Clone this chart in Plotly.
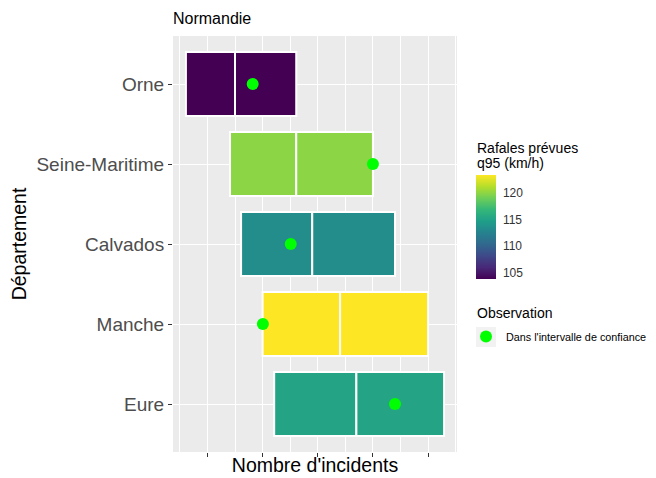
import plotly.graph_objects as go

# Data
departements = ["Orne", "Seine-Maritime", "Calvados", "Manche", "Eure"]
borne_basse = [6.1, 14.1, 16.1, 20.0, 22.1]
mediane = [15.0, 26.1, 29.0, 34.05, 37.0]
borne_haute = [26.1, 40.0, 44.0, 50.0, 52.9]
observation = [18.2, 40.0, 25.1, 20.05, 44.0]
rafales_q95 = [103.8, 120.0, 113.4, 123.45, 115.2]
x_ticks = [10, 20, 30, 40, 50]
cb_ticks = [105, 110, 115, 120]

# page body has an 8px margin -> work in page pixels and convert
O = 8
W, H = 656 - O, 478 - O
PX0, PX1, PY0, PY1 = 173, 457, 36, 452   # panel in page pixels
L, T = PX0 - O, PY0 - O
pw, ph = PX1 - PX0, PY1 - PY0
R, B = W - L - pw, H - T - ph


def px(x):
    return (x - PX0) / pw


def py(y):
    return (PY1 - y) / ph


cmin, cmax = min(rafales_q95), max(rafales_q95)
font = "Liberation Sans, Arial, sans-serif"

fig = go.Figure()

fig.add_trace(go.Bar(
    y=departements, base=borne_basse,
    x=[m - b for m, b in zip(mediane, borne_basse)],
    orientation="h", width=0.8, showlegend=False,
    marker=dict(color=rafales_q95, colorscale="Viridis", cmin=cmin, cmax=cmax,
                line=dict(color="white", width=2),
                showscale=True,
                colorbar=dict(
                    x=px(476), xanchor="left", xref="paper",
                    y=py(227), yanchor="middle", yref="paper",
                    lenmode="pixels", len=104, thickness=20,
                    outlinewidth=0, tickvals=cb_ticks,
                    ticks="outside", ticklen=5, tickcolor="rgba(0,0,0,0)", tickwidth=1,
                    tickfont=dict(size=12, color="#333333", family=font),
                    xpad=0, ypad=0, title=dict(text=""))),
))
fig.add_trace(go.Bar(
    y=departements, base=mediane,
    x=[h - m for h, m in zip(borne_haute, mediane)],
    orientation="h", width=0.8, showlegend=False,
    marker=dict(color=rafales_q95, colorscale="Viridis", cmin=cmin, cmax=cmax,
                line=dict(color="white", width=2), showscale=False),
))
fig.add_trace(go.Scatter(
    y=departements, x=observation, mode="markers",
    name="Dans l'intervalle de confiance",
    marker=dict(color="#00FF00", size=12),
    showlegend=True,
))

fig.update_layout(
    width=W, height=H,
    margin=dict(l=L, r=R, t=T, b=B, autoexpand=False),
    paper_bgcolor="white", plot_bgcolor="#EBEBEB",
    barmode="overlay",
    font=dict(family=font, color="black"),
    title=dict(text="Normandie", x=0, xref="paper", xanchor="left",
               y=1 - (18 - O) / H, yref="container", yanchor="middle",
               font=dict(size=16, color="black")),
    xaxis=dict(range=[3.76, 55.24], tickvals=x_ticks, showticklabels=False,
               ticks="outside", ticklen=4, tickcolor="#333333", tickwidth=1,
               showgrid=True, gridcolor="white", gridwidth=1.1, zeroline=False,
               minor=dict(showgrid=True, gridcolor="white", gridwidth=0.5,
                          tick0=5, dtick=10, ticks=""),
               title=dict(text="Nombre d'incidents", standoff=2,
                          font=dict(size=19.5, color="black"))),
    yaxis=dict(categoryorder="array", categoryarray=departements[::-1],
               range=[-0.6, 4.6], ticks="outside", ticklen=4, tickcolor="#333333",
               tickfont=dict(size=19, color="#4D4D4D"),
               showgrid=True, gridcolor="white", gridwidth=1.1, zeroline=False,
               title=dict(text="Département", standoff=8,
                          font=dict(size=19.5, color="black"))),
    legend=dict(x=px(466), xanchor="left", y=py(322), yanchor="top",
                font=dict(size=10.8, color="black"), bgcolor="rgba(0,0,0,0)",
                itemsizing="constant"),
    annotations=[
        dict(text="Rafales prévues", xref="paper", yref="paper",
             x=px(475), y=py(148), xanchor="left", yanchor="middle",
             showarrow=False, font=dict(size=14, color="black")),
        dict(text="q95 (km/h)", xref="paper", yref="paper",
             x=px(475), y=py(163), xanchor="left", yanchor="middle",
             showarrow=False, font=dict(size=14, color="black")),
        dict(text="Observation", xref="paper", yref="paper",
             x=px(475), y=py(313), xanchor="left", yanchor="middle",
             showarrow=False, font=dict(size=14, color="black")),
    ],
    shapes=[dict(type="rect", xref="paper", yref="paper",
                 x0=px(476), x1=px(496), y0=py(347), y1=py(327),
                 fillcolor="#F2F2F2", line=dict(width=0), layer="above")],
)

fig.write_html("out.html")
